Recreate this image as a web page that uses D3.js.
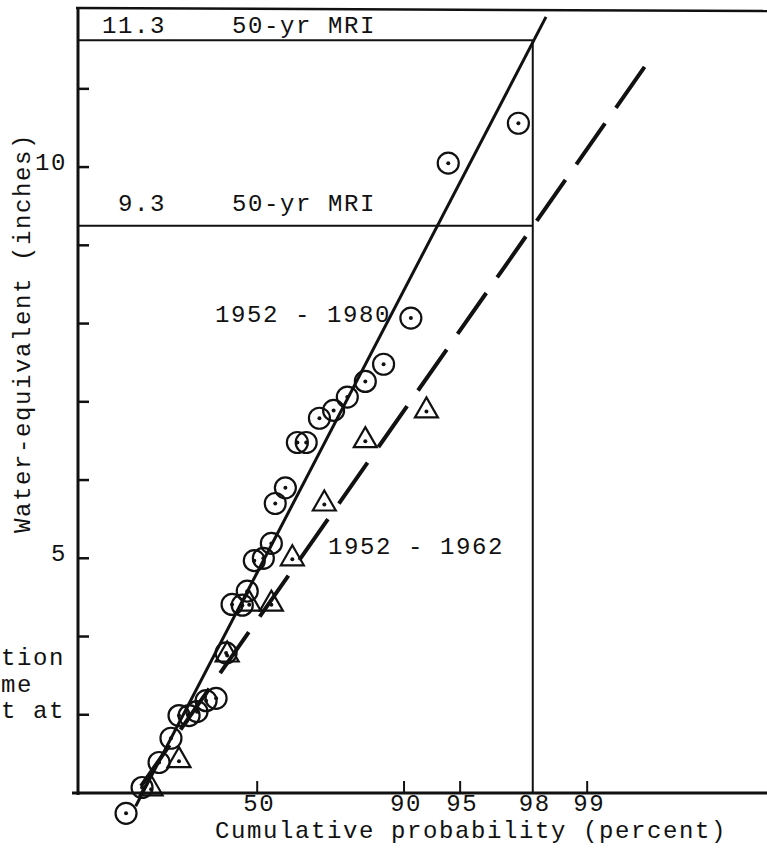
<!DOCTYPE html>
<html>
<head>
<meta charset="utf-8">
<script src="https://cdn.jsdelivr.net/npm/d3@7"></script>
<style>
  body { margin: 0; background: #fff; }
  svg { display: block; }
  text { font-family: "Liberation Mono", "DejaVu Sans Mono", monospace; font-size: 24px; letter-spacing: 1.6px; fill: #111; }
</style>
</head>
<body>
<svg width="767" height="848"></svg>
<script>
// cumulative probability (percent) and water-equivalent (inches)
var probs1980 = [2.4, 4.8, 8.7, 12.3, 15.1, 19.0, 22.3, 26.3, 30.9, 35.6, 38.4, 43.2, 45.5, 48.7,
                 52.7, 56.1, 57.7, 61.7, 66.1, 69.1, 73.2, 77.1, 80.4, 84.1, 87.2, 90.8, 94.2, 97.6];
var values1980 = [1.74, 2.07, 2.39, 2.70, 2.99, 2.99, 3.04, 3.18, 3.21, 3.79, 4.41, 4.40, 4.58, 4.97,
                  5.00, 5.19, 5.70, 5.90, 6.48, 6.48, 6.79, 6.89, 7.06, 7.26, 7.48, 8.07, 10.05, 10.56];

var probs1962 = [6.7, 15.1, 36.1, 46.4, 56.1, 64.3, 74.6, 84.1, 92.4];
var values1962 = [2.06, 2.42, 3.77, 4.42, 4.42, 5.00, 5.70, 6.51, 6.89];

// fitted lines, end points (percent, inches)
var fit1980 = [[3.7, 1.83], [98.31, 11.92]];
var fit1962 = [[99.52, 11.28], [4.05, 2.03]];   // drawn top-down so the dashes start at the top

var xTicks = [50, 90, 95, 98, 99];
var yTicks = [3, 4, 5, 6, 7, 8, 9, 10, 11];
var yTickLabels = [5, 10];

var mriProb = 98;
var mriLevels = [11.62, 9.25];
var mriLabels = ["11.3", "9.3"];

var svg = d3.select("svg");

// Gumbel reduced variate for the probability axis
function gumbel(p) { return -Math.log(-Math.log(p / 100)); }

var x = d3.scaleLinear().domain([gumbel(0.1), gumbel(99.9)]).range([78, 767]),
    y = d3.scaleLinear().domain([2, 12]).range([793, 10.6]);

var px = function(p) { return x(gumbel(p)); };

// frame: left axis, bottom axis, top border
svg.append("line").attr("x1", 78).attr("x2", 78).attr("y1", 7).attr("y2", 795)
  .attr("stroke", "#111").attr("stroke-width", 3);
svg.append("line").attr("x1", 72).attr("x2", 767).attr("y1", y(2)).attr("y2", y(2))
  .attr("stroke", "#111").attr("stroke-width", 3);
svg.append("line").attr("x1", 76).attr("x2", 767).attr("y1", 8).attr("y2", 11)
  .attr("stroke", "#111").attr("stroke-width", 2.5);

// y ticks
svg.selectAll(".ytick").data(yTicks).enter().append("line")
  .attr("x1", 78).attr("x2", 89)
  .attr("y1", d => y(d)).attr("y2", d => y(d))
  .attr("stroke", "#111").attr("stroke-width", 2.5);
svg.selectAll(".ylab").data(yTickLabels).enter().append("text")
  .attr("x", 67).attr("y", d => y(d) + 3)
  .attr("text-anchor", "end")
  .text(d => d);

// x ticks (98 gets the MRI line instead)
svg.selectAll(".xtick").data(xTicks.filter(d => d != mriProb)).enter().append("line")
  .attr("x1", d => px(d)).attr("x2", d => px(d))
  .attr("y1", y(2)).attr("y2", y(2) - 12)
  .attr("stroke", "#111").attr("stroke-width", 2);
svg.selectAll(".xlab").data(xTicks).enter().append("text")
  .attr("x", d => px(d) + 2).attr("y", 811)
  .attr("text-anchor", "middle")
  .text(d => d);

// axis titles
svg.append("text").attr("x", 471).attr("y", 838).attr("text-anchor", "middle")
  .text("Cumulative probability (percent)");
svg.append("text").attr("transform", "translate(30,333) rotate(-90)")
  .attr("text-anchor", "middle")
  .text("Water-equivalent (inches)");

// 50-yr MRI lines
svg.append("line").attr("x1", px(mriProb)).attr("x2", px(mriProb))
  .attr("y1", y(mriLevels[0])).attr("y2", y(2))
  .attr("stroke", "#111").attr("stroke-width", 2);
svg.selectAll(".mri").data(mriLevels).enter().append("line")
  .attr("x1", 78).attr("x2", px(mriProb))
  .attr("y1", d => y(d)).attr("y2", d => y(d))
  .attr("stroke", "#111").attr("stroke-width", 2);
svg.append("text").attr("x", 166).attr("y", y(mriLevels[0]) - 7).attr("text-anchor", "end").text(mriLabels[0]);
svg.append("text").attr("x", 232).attr("y", y(mriLevels[0]) - 7).text("50-yr MRI");
svg.append("text").attr("x", 166).attr("y", y(mriLevels[1]) - 15).attr("text-anchor", "end").text(mriLabels[1]);
svg.append("text").attr("x", 232).attr("y", y(mriLevels[1]) - 15).text("50-yr MRI");

// fitted lines
var line = d3.line().x(d => px(d[0])).y(d => y(d[1]));
svg.append("path").attr("d", line(fit1980)).attr("fill", "none")
  .attr("stroke", "#111").attr("stroke-width", 3);
svg.append("path").attr("d", line(fit1962)).attr("fill", "none")
  .attr("stroke", "#111").attr("stroke-width", 4)
  .attr("stroke-dasharray", "50,19");

// 1952-1980 circles
var circ = svg.append("g").selectAll("g").data(d3.range(probs1980.length)).enter().append("g")
  .attr("transform", i => "translate(" + px(probs1980[i]) + "," + y(values1980[i]) + ")");
circ.append("circle").attr("r", 10.5).attr("fill", "none").attr("stroke", "#111").attr("stroke-width", 2.2);
circ.append("circle").attr("r", 2).attr("fill", "#111");

// 1952-1962 triangles
var tri = svg.append("g").selectAll("g").data(d3.range(probs1962.length)).enter().append("g")
  .attr("transform", i => "translate(" + px(probs1962[i]) + "," + y(values1962[i]) + ")");
tri.append("path").attr("d", "M0,-13L11.5,7L-11.5,7Z")
  .attr("fill", "none").attr("stroke", "#111").attr("stroke-width", 2.2);
tri.append("circle").attr("r", 2).attr("cy", 1).attr("fill", "#111");

// series labels
svg.append("text").attr("x", 215).attr("y", 322).text("1952 - 1980");
svg.append("text").attr("x", 328).attr("y", 554).text("1952 - 1962");

// bits of the caption cut off at the left edge
svg.append("text").attr("x", 1).attr("y", 665).text("tion");
svg.append("text").attr("x", 1).attr("y", 692).text("me");
svg.append("text").attr("x", 1).attr("y", 718).text("t at");
</script>
</body>
</html>
